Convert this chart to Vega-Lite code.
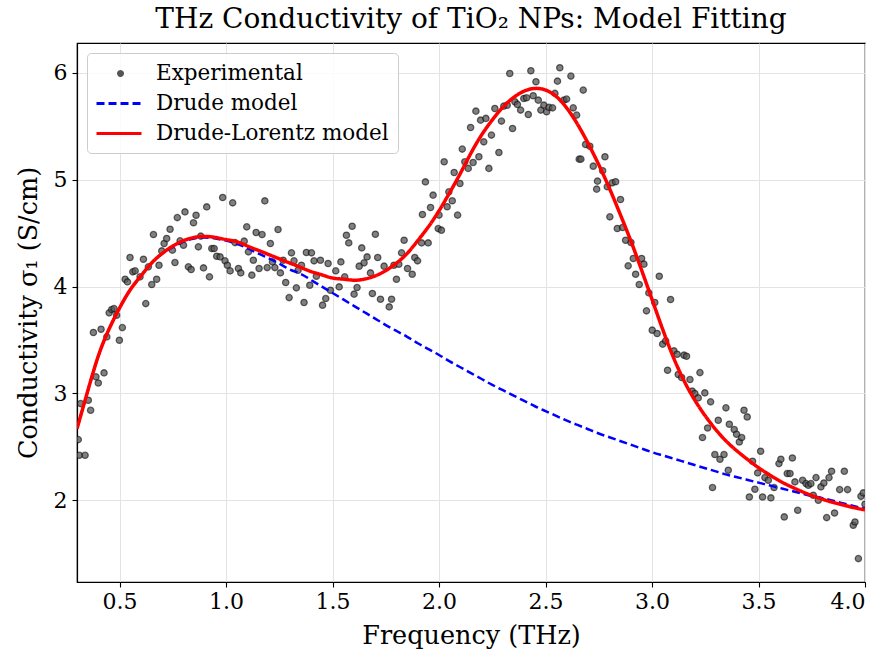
{
  "$schema": "https://vega.github.io/schema/vega-lite/v6.json",
  "width": 788,
  "height": 539,
  "autosize": {"type": "none"},
  "padding": {"left": 77, "top": 43, "right": 20, "bottom": 75},
  "background": "white",
  "title": {"text": "THz Conductivity of TiO₂ NPs: Model Fitting", "font": "DejaVu Serif", "fontSize": 28, "fontWeight": "normal", "color": "#000000", "offset": 9, "anchor": "middle"},
  "config": {
    "font": "DejaVu Serif",
    "view": {"stroke": "#000000", "strokeWidth": 1.2},
    "axis": {"labelFont": "DejaVu Serif", "titleFont": "DejaVu Serif", "labelFontSize": 22, "titleFontSize": 25.5, "titleFontWeight": "normal", "labelColor": "#000000", "titleColor": "#000000", "tickColor": "#000000", "tickSize": 5, "tickWidth": 1.1, "domainColor": "#000000", "domainWidth": 1.2, "gridColor": "#e3e3e3", "gridWidth": 1},
    "legend": {
      "orient": "top-left", "offset": 10, "padding": 9, "cornerRadius": 4,
      "strokeColor": "#cccccc", "fillColor": "rgba(255,255,255,0.85)",
      "labelFont": "DejaVu Serif", "labelFontSize": 21.5, "labelColor": "#000000", "labelLimit": 0,
      "symbolSize": 400, "symbolStrokeWidth": 3, "symbolOpacity": 1, "labelOffset": 37, "rowPadding": 8
    }
  },
  "datasets": {
    "exp": [
      {"f":0.306,"v":2.568},{"f":0.311,"v":2.421},{"f":0.338,"v":2.421},{"f":0.317,"v":2.905},{"f":0.353,"v":2.936},{"f":0.364,"v":2.842},{"f":0.389,"v":3.155},{"f":0.400,"v":3.098},{"f":0.427,"v":3.192},{"f":0.377,"v":3.570},{"f":0.413,"v":3.601},{"f":0.440,"v":3.529},{"f":0.451,"v":3.754},{"f":0.463,"v":3.785},{"f":0.474,"v":3.794},{"f":0.486,"v":3.732},{"f":0.513,"v":3.616},{"f":0.499,"v":3.498},{"f":0.526,"v":4.069},{"f":0.537,"v":4.044},{"f":0.549,"v":4.272},{"f":0.562,"v":4.138},{"f":0.573,"v":4.147},{"f":0.596,"v":4.091},{"f":0.612,"v":4.256},{"f":0.623,"v":3.841},{"f":0.635,"v":4.185},{"f":0.651,"v":4.019},{"f":0.659,"v":4.487},{"f":0.674,"v":4.069},{"f":0.685,"v":4.200},{"f":0.698,"v":4.334},{"f":0.709,"v":4.403},{"f":0.721,"v":4.450},{"f":0.737,"v":4.537},{"f":0.748,"v":4.341},{"f":0.760,"v":4.225},{"f":0.771,"v":4.646},{"f":0.784,"v":4.428},{"f":0.800,"v":4.387},{"f":0.807,"v":4.699},{"f":0.823,"v":4.185},{"f":0.836,"v":4.160},{"f":0.847,"v":4.597},{"f":0.859,"v":4.668},{"f":0.870,"v":4.372},{"f":0.881,"v":4.472},{"f":0.894,"v":4.175},{"f":0.909,"v":4.746},{"f":0.922,"v":4.091},{"f":0.933,"v":4.356},{"f":0.944,"v":4.356},{"f":0.956,"v":4.284},{"f":0.972,"v":4.278},{"f":0.984,"v":4.834},{"f":0.995,"v":4.241},{"f":1.006,"v":4.200},{"f":1.019,"v":4.147},{"f":1.031,"v":4.784},{"f":1.042,"v":4.412},{"f":1.058,"v":4.169},{"f":1.069,"v":4.128},{"f":1.085,"v":4.425},{"f":1.097,"v":4.559},{"f":1.105,"v":4.325},{"f":1.121,"v":4.107},{"f":1.128,"v":4.247},{"f":1.141,"v":4.506},
      {"f":1.169,"v":4.487},{"f":1.155,"v":4.169},{"f":1.182,"v":4.802},{"f":1.193,"v":4.178},{"f":1.208,"v":4.403},{"f":1.218,"v":4.231},{"f":1.229,"v":4.178},{"f":1.244,"v":4.534},{"f":1.255,"v":4.128},{"f":1.268,"v":4.247},{"f":1.280,"v":4.038},{"f":1.296,"v":3.897},{"f":1.307,"v":4.316},{"f":1.319,"v":4.241},{"f":1.330,"v":3.988},{"f":1.338,"v":4.153},{"f":1.354,"v":4.200},{"f":1.366,"v":3.851},{"f":1.377,"v":4.319},{"f":1.393,"v":4.013},{"f":1.401,"v":4.316},{"f":1.413,"v":4.241},{"f":1.424,"v":4.097},{"f":1.443,"v":4.247},{"f":1.453,"v":3.826},{"f":1.468,"v":3.888},{"f":1.479,"v":4.216},{"f":1.490,"v":3.966},{"f":1.515,"v":4.147},{"f":1.531,"v":3.997},{"f":1.539,"v":4.231},{"f":1.557,"v":4.091},{"f":1.565,"v":4.481},{"f":1.576,"v":4.409},{"f":1.592,"v":4.565},{"f":1.601,"v":3.929},{"f":1.615,"v":3.991},{"f":1.625,"v":4.191},{"f":1.637,"v":4.362},{"f":1.648,"v":4.222},{"f":1.662,"v":4.278},{"f":1.678,"v":4.128},{"f":1.687,"v":3.935},{"f":1.701,"v":4.490},{"f":1.712,"v":4.272},{"f":1.725,"v":3.882},{"f":1.742,"v":4.191},{"f":1.766,"v":3.810},{"f":1.777,"v":3.882},{"f":1.788,"v":4.200},{"f":1.800,"v":4.069},{"f":1.811,"v":4.209},{"f":1.824,"v":4.316},{"f":1.836,"v":4.434},{"f":1.852,"v":4.169},{"f":1.874,"v":4.116},{"f":1.886,"v":4.272},{"f":1.899,"v":4.241},{"f":1.918,"v":4.409},{"f":1.922,"v":4.675},{"f":1.949,"v":4.409},{"f":1.960,"v":4.740},{"f":1.972,"v":4.856},{"f":1.936,"v":4.980},{"f":1.996,"v":4.543},
      {"f":2.011,"v":4.528},{"f":2.000,"v":4.669},{"f":2.024,"v":5.168},{"f":2.038,"v":4.747},{"f":2.046,"v":4.887},{"f":2.062,"v":4.803},{"f":2.071,"v":5.068},{"f":2.087,"v":4.669},{"f":2.098,"v":4.965},{"f":2.109,"v":5.287},{"f":2.121,"v":5.168},{"f":2.137,"v":5.106},{"f":2.148,"v":5.489},{"f":2.160,"v":5.162},{"f":2.173,"v":5.642},{"f":2.187,"v":5.215},{"f":2.195,"v":5.558},{"f":2.210,"v":5.355},{"f":2.220,"v":5.574},{"f":2.234,"v":5.106},{"f":2.246,"v":5.418},{"f":2.262,"v":5.667},{"f":2.281,"v":5.255},{"f":2.293,"v":5.549},{"f":2.304,"v":5.689},{"f":2.320,"v":5.698},{"f":2.332,"v":5.995},{"f":2.345,"v":5.480},{"f":2.356,"v":5.730},{"f":2.368,"v":5.705},{"f":2.383,"v":5.652},{"f":2.398,"v":5.761},{"f":2.411,"v":5.767},{"f":2.419,"v":5.611},{"f":2.431,"v":6.020},{"f":2.442,"v":5.786},{"f":2.455,"v":5.917},{"f":2.466,"v":5.745},{"f":2.478,"v":5.652},{"f":2.492,"v":5.698},{"f":2.505,"v":5.636},{"f":2.516,"v":5.677},{"f":2.533,"v":5.673},{"f":2.544,"v":5.808},{"f":2.556,"v":5.923},{"f":2.567,"v":6.048},{"f":2.586,"v":5.745},{"f":2.599,"v":5.755},{"f":2.619,"v":5.970},{"f":2.630,"v":5.673},{"f":2.646,"v":5.605},{"f":2.658,"v":5.193},{"f":2.666,"v":5.193},{"f":2.677,"v":5.839},{"f":2.688,"v":5.330},{"f":2.708,"v":5.314},{"f":2.724,"v":5.127},{"f":2.744,"v":4.987},{"f":2.740,"v":4.912},
      {"f":2.768,"v":5.084},{"f":2.779,"v":5.215},{"f":2.790,"v":4.934},{"f":2.813,"v":4.971},{"f":2.829,"v":4.981},{"f":2.802,"v":4.653},{"f":2.852,"v":4.815},{"f":2.837,"v":4.544},{"f":2.862,"v":4.553},{"f":2.876,"v":4.434},{"f":2.901,"v":4.413},{"f":2.888,"v":4.194},{"f":2.912,"v":4.263},{"f":2.923,"v":4.116},{"f":2.951,"v":4.263},{"f":2.962,"v":4.210},{"f":2.940,"v":4.019},{"f":2.985,"v":3.941},{"f":3.013,"v":3.851},{"f":2.974,"v":3.773},{"f":3.034,"v":4.097},{"f":3.001,"v":3.592},{"f":3.024,"v":3.561},{"f":3.050,"v":3.461},{"f":3.064,"v":3.492},{"f":3.087,"v":3.879},{"f":3.103,"v":3.398},{"f":3.118,"v":3.367},{"f":3.150,"v":3.358},{"f":3.162,"v":3.348},{"f":3.073,"v":3.217},{"f":3.123,"v":3.177},{"f":3.139,"v":3.149},{"f":3.178,"v":3.130},{"f":3.189,"v":3.021},{"f":3.201,"v":2.999},{"f":3.217,"v":2.958},{"f":3.225,"v":3.195},{"f":3.248,"v":3.005},{"f":3.275,"v":2.921},{"f":3.347,"v":2.865},{"f":3.311,"v":2.749},{"f":3.261,"v":2.677},{"f":3.237,"v":2.587},{"f":3.363,"v":2.712},{"f":3.295,"v":2.428},{"f":3.319,"v":2.384},{"f":3.338,"v":2.428},{"f":3.358,"v":2.281},
      {"f":3.386,"v":2.662},{"f":3.397,"v":2.618},{"f":3.410,"v":2.546},{"f":3.421,"v":2.587},{"f":3.432,"v":2.843},{"f":3.447,"v":2.780},{"f":3.284,"v":2.119},{"f":3.457,"v":2.031},{"f":3.472,"v":2.365},{"f":3.483,"v":2.103},{"f":3.496,"v":2.256},{"f":3.510,"v":2.459},{"f":3.519,"v":2.031},{"f":3.530,"v":2.212},{"f":3.546,"v":2.187},{"f":3.558,"v":2.022},{"f":3.573,"v":2.119},{"f":3.596,"v":2.343},{"f":3.605,"v":2.384},{"f":3.621,"v":1.844},{"f":3.635,"v":2.250},{"f":3.648,"v":2.250},{"f":3.659,"v":2.396},{"f":3.671,"v":2.172},{"f":3.684,"v":1.906},{"f":3.707,"v":2.187},{"f":3.723,"v":2.156},{"f":3.734,"v":2.140},{"f":3.746,"v":2.156},{"f":3.757,"v":2.047},{"f":3.770,"v":2.212},{"f":3.781,"v":2.000},{"f":3.793,"v":2.125},{"f":3.807,"v":2.162},{"f":3.820,"v":1.838},{"f":3.831,"v":2.212},{"f":3.843,"v":2.272},{"f":3.857,"v":1.881},{"f":3.881,"v":2.100},{"f":3.903,"v":2.272},{"f":3.918,"v":2.100},{"f":3.945,"v":1.766},{"f":3.953,"v":1.797},{"f":3.969,"v":1.454},{"f":3.981,"v":2.037},{"f":3.992,"v":2.069},{"f":4.000,"v":1.963}
    ],
    "curves": [
      {"f":0.30,"drude":2.67,"dl":2.67},{"f":0.35,"drude":3.02,"dl":3.02},{"f":0.40,"drude":3.35,"dl":3.35},{"f":0.45,"drude":3.60,"dl":3.60},{"f":0.50,"drude":3.80,"dl":3.80},{"f":0.55,"drude":3.97,"dl":3.97},{"f":0.60,"drude":4.10,"dl":4.10},{"f":0.65,"drude":4.22,"dl":4.22},{"f":0.70,"drude":4.31,"dl":4.31},{"f":0.75,"drude":4.37,"dl":4.38},{"f":0.80,"drude":4.42,"dl":4.43},{"f":0.85,"drude":4.45,"dl":4.46},{"f":0.90,"drude":4.46,"dl":4.47},{"f":0.95,"drude":4.45,"dl":4.46},{"f":1.00,"drude":4.43,"dl":4.44},{"f":1.05,"drude":4.40,"dl":4.42},{"f":1.10,"drude":4.36,"dl":4.38},{"f":1.15,"drude":4.31,"dl":4.34},{"f":1.20,"drude":4.265,"dl":4.30},{"f":1.25,"drude":4.215,"dl":4.26},{"f":1.30,"drude":4.16,"dl":4.22},{"f":1.35,"drude":4.12,"dl":4.18},{"f":1.40,"drude":4.06,"dl":4.14},{"f":1.45,"drude":4.00,"dl":4.11},{"f":1.50,"drude":3.94,"dl":4.08},{"f":1.55,"drude":3.88,"dl":4.07},{"f":1.60,"drude":3.82,"dl":4.06},{"f":1.65,"drude":3.76,"dl":4.07},{"f":1.70,"drude":3.70,"dl":4.10},{"f":1.75,"drude":3.64,"dl":4.15},{"f":1.80,"drude":3.585,"dl":4.22},{"f":1.85,"drude":3.53,"dl":4.31},{"f":1.90,"drude":3.47,"dl":4.43},{"f":1.95,"drude":3.415,"dl":4.56},{"f":2.00,"drude":3.36,"dl":4.71},{"f":2.05,"drude":3.30,"dl":4.88},{"f":2.10,"drude":3.245,"dl":5.06},{"f":2.15,"drude":3.19,"dl":5.25},{"f":2.20,"drude":3.135,"dl":5.42},{"f":2.25,"drude":3.08,"dl":5.56},{"f":2.30,"drude":3.03,"dl":5.68},{"f":2.35,"drude":2.98,"dl":5.77},{"f":2.40,"drude":2.93,"dl":5.83},{"f":2.45,"drude":2.88,"dl":5.855},{"f":2.50,"drude":2.835,"dl":5.84},{"f":2.55,"drude":2.79,"dl":5.78},{"f":2.60,"drude":2.745,"dl":5.67},{"f":2.65,"drude":2.705,"dl":5.52},{"f":2.70,"drude":2.665,"dl":5.34},{"f":2.75,"drude":2.625,"dl":5.14},{"f":2.80,"drude":2.59,"dl":4.92},{"f":2.85,"drude":2.555,"dl":4.68},{"f":2.90,"drude":2.52,"dl":4.43},{"f":2.95,"drude":2.485,"dl":4.16},{"f":3.00,"drude":2.45,"dl":3.88},{"f":3.05,"drude":2.42,"dl":3.60},{"f":3.10,"drude":2.39,"dl":3.34},{"f":3.15,"drude":2.36,"dl":3.12},{"f":3.20,"drude":2.33,"dl":2.94},{"f":3.25,"drude":2.30,"dl":2.79},{"f":3.30,"drude":2.27,"dl":2.66},{"f":3.35,"drude":2.24,"dl":2.55},{"f":3.40,"drude":2.215,"dl":2.46},{"f":3.45,"drude":2.19,"dl":2.38},{"f":3.50,"drude":2.165,"dl":2.305},{"f":3.55,"drude":2.14,"dl":2.24},{"f":3.60,"drude":2.115,"dl":2.18},{"f":3.65,"drude":2.09,"dl":2.13},{"f":3.70,"drude":2.065,"dl":2.085},{"f":3.75,"drude":2.04,"dl":2.045},{"f":3.80,"drude":2.02,"dl":2.01},{"f":3.85,"drude":1.995,"dl":1.98},{"f":3.90,"drude":1.97,"dl":1.955},{"f":3.95,"drude":1.945,"dl":1.93},{"f":4.00,"drude":1.92,"dl":1.91}
    ]
  },
  "layer": [
    {
      "data": {"values": []},
      "mark": {"type": "point", "filled": false, "opacity": 1, "strokeWidth": 3},
      "encoding": {
        "x": {"field": "f", "type": "quantitative", "scale": {"domain": [0.3, 4.0], "nice": false, "zero": false}, "axis": {"title": "Frequency (THz)", "values": [0.5, 1.0, 1.5, 2.0, 2.5, 3.0, 3.5, 4.0], "format": ".1f", "labelPadding": 4, "titlePadding": 11}},
        "y": {"field": "v", "type": "quantitative", "scale": {"domain": [1.235, 6.28], "nice": false, "zero": false}, "axis": {"title": "Conductivity σ₁ (S/cm)", "values": [2, 3, 4, 5, 6], "format": "d", "labelPadding": 5, "titlePadding": 12}},
        "color": {"datum": "Experimental", "type": "nominal", "scale": {"domain": ["Experimental", "Drude model", "Drude-Lorentz model"], "range": ["#555555", "#0000ff", "#ff0000"]}, "legend": {"title": null}},
        "shape": {"datum": "Experimental", "type": "nominal", "scale": {"domain": ["Experimental", "Drude model", "Drude-Lorentz model"], "range": ["M1.1,0A0.2,0.2 0 1,1 1.5,0A0.2,0.2 0 1,1 1.1,0Z", "M-1.1,0H3.4", "M-1.1,0H3.4"]}, "legend": {"title": null}}
      }
    },
    {
      "data": {"name": "exp"},
      "mark": {"type": "circle", "size": 40, "fillOpacity": 0.75, "stroke": "#000000", "strokeOpacity": 0.55, "strokeWidth": 1.3, "clip": true},
      "encoding": {
        "x": {"field": "f", "type": "quantitative"},
        "y": {"field": "v", "type": "quantitative"},
        "color": {"datum": "Experimental", "type": "nominal", "legend": {"title": null}}
      }
    },
    {
      "data": {"name": "curves"},
      "mark": {"type": "line", "strokeWidth": 2.5, "interpolate": "natural", "clip": true},
      "encoding": {
        "x": {"field": "f", "type": "quantitative"},
        "y": {"field": "drude", "type": "quantitative"},
        "color": {"datum": "Drude model", "type": "nominal", "legend": {"title": null}},
        "strokeDash": {"datum": "Drude model", "type": "nominal", "scale": {"domain": ["Experimental", "Drude model", "Drude-Lorentz model"], "range": [[1, 0], [8, 4], [1, 0]]}, "legend": {"title": null}}
      }
    },
    {
      "data": {"name": "curves"},
      "mark": {"type": "line", "strokeWidth": 3.5, "interpolate": "natural", "clip": true},
      "encoding": {
        "x": {"field": "f", "type": "quantitative"},
        "y": {"field": "dl", "type": "quantitative"},
        "color": {"datum": "Drude-Lorentz model", "type": "nominal", "legend": {"title": null}},
        "strokeDash": {"datum": "Drude-Lorentz model", "type": "nominal", "legend": {"title": null}}
      }
    }
  ]
}
